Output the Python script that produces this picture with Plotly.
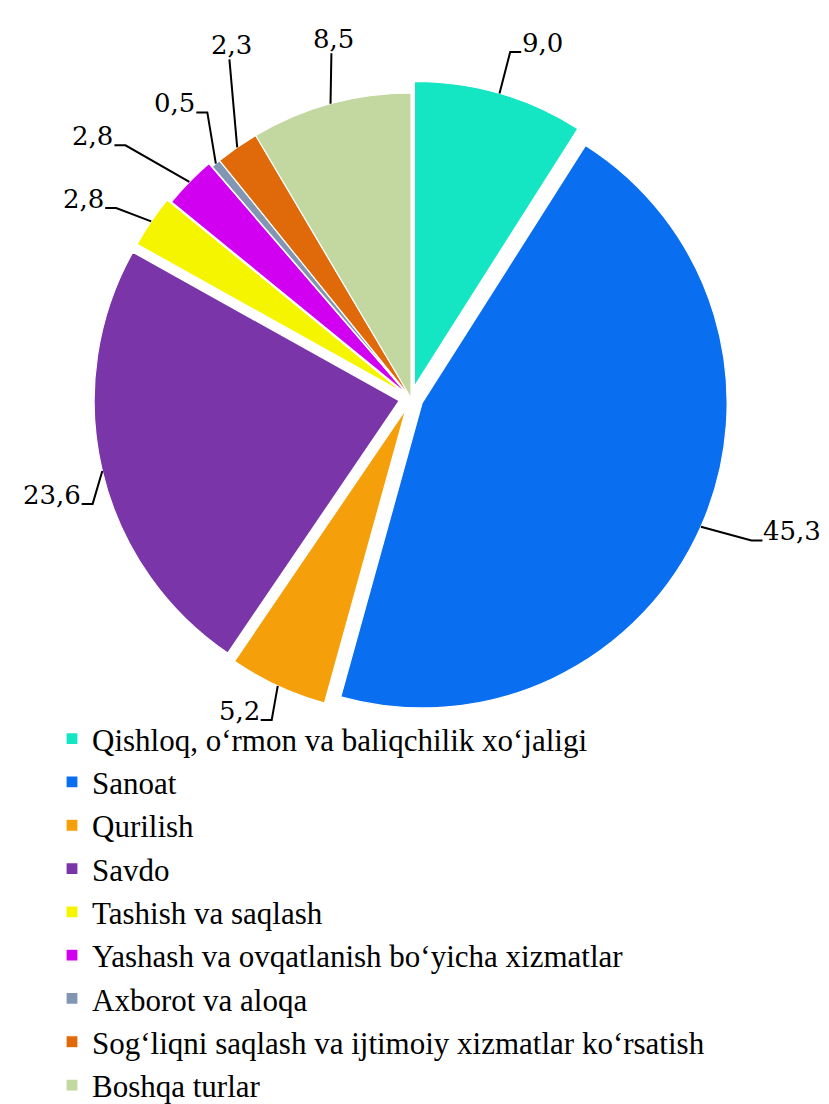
import math
import plotly.graph_objects as go

# ---- data ----
categories = [
    "Qishloq, o‘rmon va baliqchilik xo‘jaligi",
    "Sanoat",
    "Qurilish",
    "Savdo",
    "Tashish va saqlash",
    "Yashash va ovqatlanish bo‘yicha xizmatlar",
    "Axborot va aloqa",
    "Sog‘liqni saqlash va ijtimoiy xizmatlar ko‘rsatish",
    "Boshqa turlar",
]
values = [9.0, 45.3, 5.2, 23.6, 2.8, 2.8, 0.5, 2.3, 8.5]

# ---- styles / layout ----
colors = ["#14E6C3", "#0A6EF0", "#F5A00A", "#7A35A8", "#F5F500",
          "#D200F0", "#8296B4", "#E06A0A", "#C3D7A0"]
pulls = [0.04, 0.04, 0.04, 0.04, 0.03, 0.015, 0.0, 0.0, 0.0]
# label elbow placement (angle clockwise from 12 o'clock, radius factor, side)
label_ang = [16, 112.7, 203.4, 251.6, 302.8, 311.5, 324.5, 331.8, 347]
label_rf = [1.18, 1.21, 1.15, 1.10, 1.15, 1.25, 1.15, 1.26, 1.16]
label_side = ["right", "right", "left", "left", "left", "left", "left", "top", "top"]

W, H = 829, 1104
CX, CY, R = 403, 390, 305
maxpull = max(pulls)
half = R * (1 + maxpull)
dom_x = [(CX - half) / W, (CX + half) / W]
dom_y = [1 - (CY + half) / H, 1 - (CY - half) / H]

FONT = "Liberation Serif"
LABEL_FONT = "DejaVu Serif"

fig = go.Figure(go.Pie(
    labels=categories,
    values=values,
    sort=False,
    direction="clockwise",
    rotation=0,
    pull=pulls,
    textinfo="none",
    hoverinfo="label+value",
    marker=dict(colors=colors, line=dict(color="white", width=1.2)),
    domain=dict(x=dom_x, y=dom_y),
))

def px2paper(x, y):
    return x / W, 1 - y / H

total = sum(values)
cum = 0.0
shapes = []
annotations = []
for i, v in enumerate(values):
    mid = (cum + v / 2) / total * 360.0
    cum += v
    a = math.radians(mid)
    off = pulls[i] * R
    ex = CX + (R + off) * math.sin(a)
    ey = CY - (R + off) * math.cos(a)
    la = math.radians(label_ang[i])
    bx = CX + label_rf[i] * R * math.sin(la)
    by = CY - label_rf[i] * R * math.cos(la)
    txt = f"{v:.1f}".replace(".", ",")
    pts = [(ex, ey), (bx, by)]
    tail = 11
    if label_side[i] == "right":
        pts.append((bx + tail, by))
        tx, ty, xa, ya = bx + tail, by - 9, "left", "middle"
    elif label_side[i] == "left":
        pts.append((bx - tail, by))
        tx, ty, xa, ya = bx - tail, by - 9, "right", "middle"
    else:
        tx, ty, xa, ya = bx + 2, by + 2, "center", "bottom"
    path = ""
    for k, (x, y) in enumerate(pts):
        pxp, pyp = px2paper(x, y)
        path += ("M" if k == 0 else " L") + f"{pxp:.5f},{pyp:.5f}"
    shapes.append(dict(type="path", xref="paper", yref="paper", path=path,
                       line=dict(color="black", width=2)))
    ax_, ay_ = px2paper(tx, ty)
    annotations.append(dict(x=ax_, y=ay_, xref="paper", yref="paper", text=txt,
                            showarrow=False, xanchor=xa, yanchor=ya, borderpad=0,
                            font=dict(family=LABEL_FONT, size=26, color="black")))

fig.update_layout(
    width=W, height=H,
    margin=dict(l=0, r=0, t=0, b=0, autoexpand=False),
    paper_bgcolor="white",
    plot_bgcolor="white",
    font=dict(family=FONT),
    shapes=shapes,
    annotations=annotations,
    showlegend=True,
    legend=dict(
        x=44 / W, y=1 - 704 / H, xanchor="left", yanchor="top",
        font=dict(family=FONT, size=31, color="black"),
        bgcolor="rgba(0,0,0,0)",
        tracegroupgap=0,
        itemwidth=30,
    ),
)

fig.write_html("out.html")
